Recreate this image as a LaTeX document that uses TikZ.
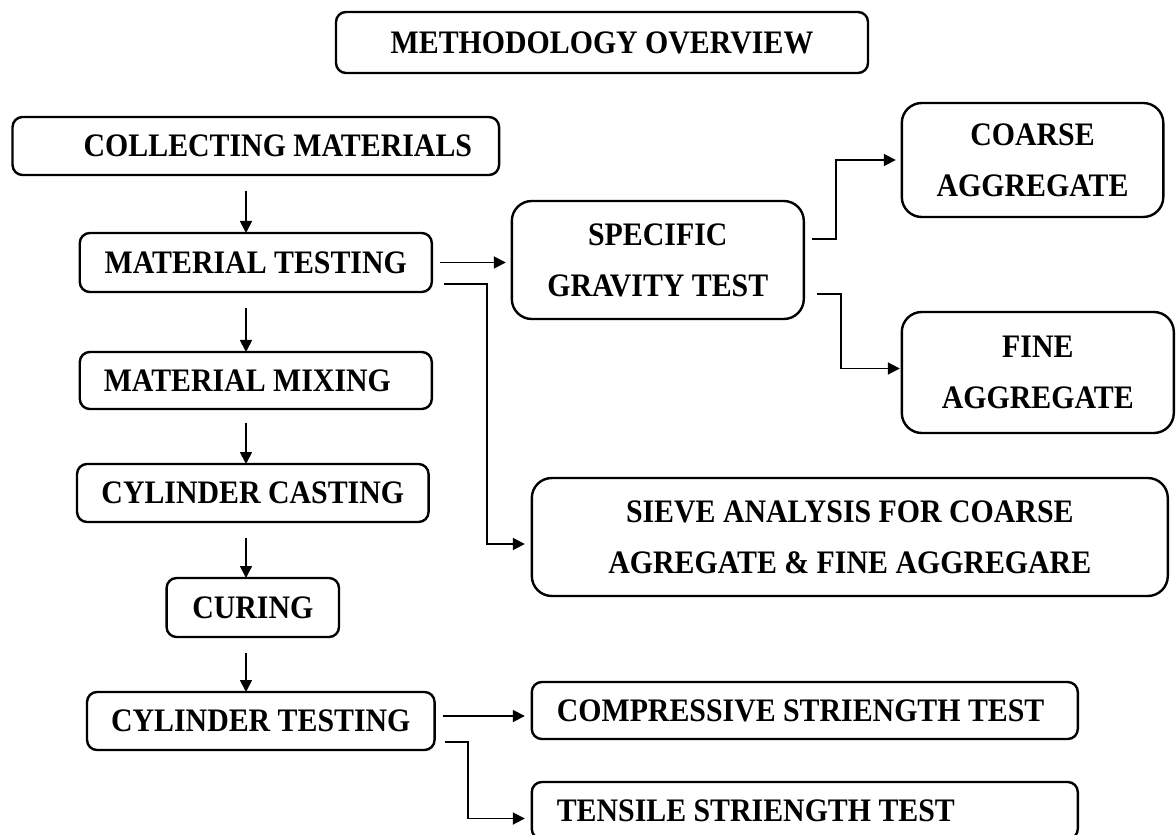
\documentclass[tikz,border=0pt]{standalone}
\usepackage{fontspec}
\setmainfont{Liberation Serif}[FakeStretch=0.91]
\usetikzlibrary{arrows.meta, positioning}

\begin{document}
\begin{tikzpicture}[>={Triangle[length=6pt,width=6pt]}, line width=0.9pt,
  box/.style={draw, rounded corners=5pt, line width=1.2pt, outer sep=0pt,
    minimum height=29pt, align=center,
    font=\fontsize{16.4}{25.5}\selectfont\bfseries},
  bigbox/.style={box, rounded corners=10pt, minimum height=59pt}]
\useasboundingbox (-127.9pt,73pt) rectangle (460.1pt,-344pt);
\clip (-127.9pt,73pt) rectangle (460.1pt,-344pt);

% main column
\node[box, text width=216.25pt, inner xsep=13.5pt, align=flush right] (coll) at (0,0) {COLLECTING MATERIALS};
\node[box, minimum width=266pt, minimum height=30.5pt, above=22pt of coll, xshift=173.1pt] (meth) {METHODOLOGY OVERVIEW};
\node[box, minimum width=176pt, minimum height=29.5pt, below=29pt of coll] (mt) {MATERIAL TESTING};
\node[box, text width=152pt, inner xsep=12pt, align=flush left, minimum height=28.5pt, below=30pt of mt] (mm) {MATERIAL MIXING};
\node[box, minimum width=175.75pt, below=27.5pt of mm, xshift=-1.5pt] (cc) {CYLINDER CASTING};
\node[box, minimum width=86.2pt, minimum height=29.5pt, below=28pt of cc] (cur) {CURING};
\node[box, minimum width=173.75pt, below=27.5pt of cur, xshift=4pt] (ct) {CYLINDER TESTING};

% tests
\node[bigbox, minimum width=146pt, right=40pt of mt, yshift=1.25pt] (spec) {SPECIFIC\\GRAVITY TEST};
\node[bigbox, minimum width=130.75pt, minimum height=57pt, right=49pt of spec, yshift=50pt] (coarse) {COARSE\\AGGREGATE};
\node[bigbox, minimum width=136pt, minimum height=60.5pt, right=49pt of spec, yshift=-56.25pt] (fine) {FINE\\AGGREGATE};
\node[bigbox, minimum width=318pt, below=79.5pt of spec, xshift=96pt] (sieve) {SIEVE ANALYSIS FOR COARSE\\AGREGATE \& FINE AGGREGARE};
\node[box, text width=248pt, inner xsep=12.5pt, align=flush left, minimum height=28.5pt, below=43pt of sieve, xshift=-22.5pt] (comp) {COMPRESSIVE STRIENGTH TEST};
\node[box, text width=248pt, inner xsep=12.5pt, align=flush left, minimum height=28.5pt, below=21.5pt of comp] (tens) {TENSILE STRIENGTH TEST};

\coordinate (spine) at ([xshift=-4.9pt]coll.center);

\draw[->] ([yshift=-8pt]coll.south -| spine) -- (mt.north -| spine);
\draw[->] ([yshift=-8pt]mt.south -| spine) -- (mm.north -| spine);
\draw[->] ([yshift=-7pt]mm.south -| spine) -- (cc.north -| spine);
\draw[->] ([yshift=-8pt]cc.south -| spine) -- (cur.north -| spine);
\draw[->] ([yshift=-8pt]cur.south -| spine) -- (ct.north -| spine);

\draw[->, shorten >=3pt] ([xshift=4pt]mt.east) -- (mt.east -| spec.west);
\draw[->] ([xshift=6pt,yshift=4pt]mt.south east) -- ++(21.75pt,0) |- ([xshift=-3.5pt,yshift=-3.5pt]sieve.west);
\draw[->] ([xshift=4.25pt,yshift=10.5pt]spec.east) -- ++(12pt,0) |- ([xshift=-3pt]coarse.west);
\draw[->] ([xshift=6.5pt,yshift=-17pt]spec.east) -- ++(12pt,0) |- ([xshift=-1pt,yshift=2pt]fine.west);
\draw[->, shorten >=3.5pt] ([xshift=4pt,yshift=2.5pt]ct.east) -- ([yshift=2.5pt]ct.east -| comp.west);
\draw[->] ([xshift=5.25pt,yshift=4pt]ct.south east) -- ++(11.5pt,0) |- ([xshift=-3.5pt,yshift=-4pt]tens.west);

\end{tikzpicture}
\end{document}
